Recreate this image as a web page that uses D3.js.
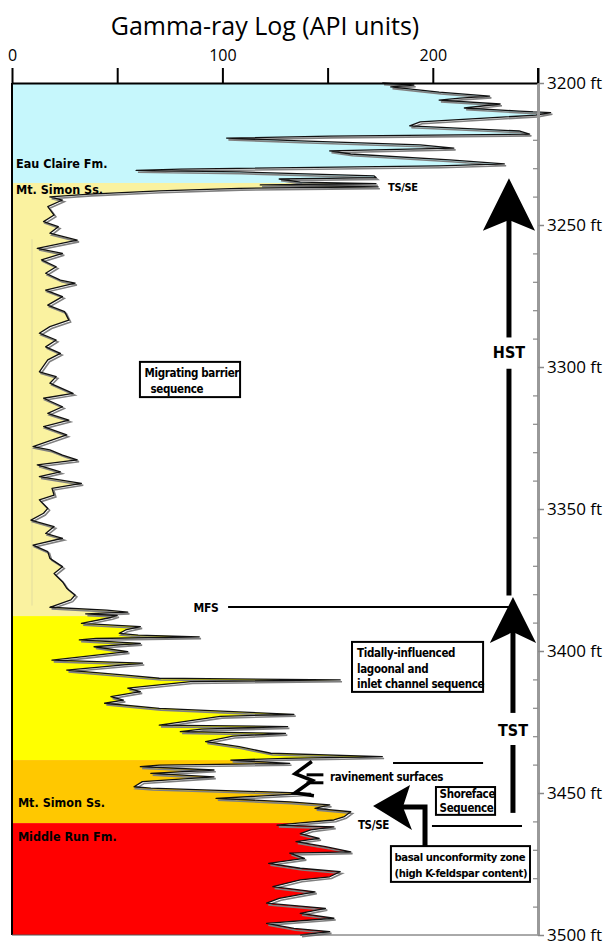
<!DOCTYPE html>
<html>
<head>
<meta charset="utf-8">
<script src="https://cdn.jsdelivr.net/npm/d3@7"></script>
<style>
  body { margin: 0; background: #fff; }
  svg { display: block; }
</style>
</head>
<body>
<svg id="canvas" width="608" height="945"></svg>
<script>
// gamma-ray log (depth in ft, GR in API units)
const depthFt = [
  3200.0, 3200.7, 3201.4, 3203.2, 3204.6, 3205.3, 3206.0, 3207.4, 3208.8, 3209.9,
  3210.4, 3211.3, 3213.7, 3215.1, 3216.9, 3218.0, 3218.7, 3219.4, 3220.4, 3221.8,
  3222.9, 3223.9, 3225.0, 3227.1, 3228.5, 3229.2, 3230.3, 3230.8, 3231.3, 3232.7,
  3233.3, 3233.8, 3234.9, 3235.4, 3235.9, 3236.6, 3237.1, 3238.0, 3239.1, 3240.1,
  3241.2, 3243.5, 3246.5, 3248.8, 3250.6, 3252.9, 3255.3, 3258.2, 3260.0, 3262.3,
  3264.7, 3267.0, 3269.4, 3270.5, 3272.9, 3275.2, 3278.2, 3280.5, 3283.5, 3285.8,
  3288.1, 3290.5, 3292.9, 3295.2, 3297.5, 3301.7, 3303.4, 3305.7, 3309.3, 3311.0,
  3314.0, 3316.3, 3318.7, 3321.0, 3323.9, 3328.0, 3329.2, 3331.0, 3332.7, 3334.5,
  3336.9, 3338.6, 3341.0, 3342.7, 3345.1, 3346.8, 3349.8, 3351.5, 3353.9, 3356.2,
  3358.6, 3360.3, 3362.7, 3365.0, 3367.4, 3370.3, 3372.7, 3375.6, 3377.9, 3380.3,
  3382.0, 3384.6, 3385.6, 3386.3, 3386.9, 3387.5, 3388.2, 3390.3, 3391.4, 3392.6,
  3393.8, 3394.4, 3395.0, 3395.6, 3396.1, 3397.3, 3398.5, 3400.2, 3403.2, 3404.3,
  3406.7, 3408.5, 3409.6, 3410.2, 3410.8, 3413.1, 3414.3, 3416.1, 3417.3, 3418.4,
  3420.2, 3422.3, 3423.0, 3426.1, 3426.6, 3427.5, 3428.4, 3429.0, 3430.0, 3431.9,
  3433.7, 3436.0, 3437.2, 3437.8, 3438.4, 3439.6, 3440.2, 3440.7, 3441.9, 3443.1,
  3444.3, 3446.0, 3447.8, 3448.3, 3450.1, 3451.9, 3453.1, 3454.2, 3455.4, 3456.6,
  3458.3, 3459.5, 3460.5, 3461.3, 3461.9, 3463.0, 3464.3, 3466.0, 3467.1, 3468.9,
  3470.7, 3471.2, 3473.0, 3474.8, 3476.5, 3477.7, 3479.5, 3480.6, 3483.0, 3484.8,
  3487.1, 3488.8, 3490.6, 3492.4, 3494.1, 3495.9, 3497.7, 3498.8, 3500.0
];
const gammaApi = [
  176, 191, 180, 203, 227, 213, 203, 232, 215, 241,
  256, 249, 194, 189, 241, 246, 151, 102, 137, 194,
  210, 151, 161, 208, 234, 203, 80, 59, 108, 172,
  173, 127, 137, 173, 118, 174, 108, 70, 37, 18,
  24, 17, 20, 15, 22, 18, 31, 12, 24, 14,
  21, 16, 23, 30, 16, 24, 17, 25, 27, 18,
  13, 21, 16, 23, 17, 13, 21, 18, 29, 15,
  24, 17, 27, 15, 26, 10, 18, 24, 31, 12,
  23, 13, 33, 19, 20, 13, 17, 15, 9, 20,
  16, 24, 10, 17, 18, 24, 20, 24, 26, 30,
  28, 18, 45, 55, 35, 50, 47, 33, 61, 54,
  51, 60, 89, 40, 32, 61, 39, 55, 19, 62,
  26, 54, 70, 156, 85, 55, 61, 47, 53, 44,
  70, 134, 99, 70, 131, 90, 80, 130, 105, 92,
  108, 123, 176, 130, 104, 132, 70, 61, 96, 66,
  96, 62, 58, 66, 142, 97, 132, 151, 144, 161,
  158, 153, 137, 126, 153, 142, 137, 146, 135, 149,
  161, 132, 139, 122, 137, 156, 151, 137, 124, 144,
  127, 121, 149, 137, 153, 121, 134, 151, 137
];

const formationNames = ["Eau Claire Fm.", "Mt. Simon Ss.", "Mt. Simon Ss. (lagoonal)", "Mt. Simon Ss. (shoreface)", "Middle Run Fm."];
const formationTops = [3200, 3235.2, 3387.7, 3438.4, 3460.6];
const formationBases = [3235.2, 3387.7, 3438.4, 3460.6, 3500];
const formationColors = ["#c6f7fc", "#faf2a0", "#ffff00", "#ffc800", "#ff0000"];

const grTicks = [0, 50, 100, 150, 200, 250];
const grTickLabels = ["0", "", "100", "", "200", ""];
const depthTicks = [3200, 3250, 3300, 3350, 3400, 3450, 3500];
const depthMinorTicks = d3.range(3210, 3500, 10).filter(d => d % 50 != 0);

const labelFont = "'Liberation Sans Narrow', 'DejaVu Sans Condensed', sans-serif";
const axisFont = "'Open Sans', sans-serif";

const svg = d3.select("#canvas");
const x = d3.scaleLinear().domain([0, 250]).range([12, 538]);
const y = d3.scaleLinear().domain([3200, 3500]).range([83, 935]);

const logData = depthFt.map((d, i) => ({depth: d, gr: gammaApi[i]}));

// title
svg.append("text")
  .attr("x", 265).attr("y", 35)
  .attr("text-anchor", "middle")
  .style("font-family", axisFont).style("font-size", "25px")
  .text("Gamma-ray Log (API units)");

// formation fills, clipped to the area left of the curve
const area = d3.area().y(d => y(d.depth)).x0(x(0)).x1(d => x(d.gr));
svg.append("clipPath").attr("id", "logclip")
  .append("path").attr("d", area(logData));

svg.append("g").attr("clip-path", "url(#logclip)")
  .selectAll("rect").data(formationNames).join("rect")
  .attr("x", x(0)).attr("width", x(260) - x(0))
  .attr("y", (d, i) => y(formationTops[i]))
  .attr("height", (d, i) => y(formationBases[i]) - y(formationTops[i]))
  .attr("fill", (d, i) => formationColors[i]);

// faint line inside upper Mt Simon
svg.append("line")
  .attr("x1", x(9.5)).attr("x2", x(9.5))
  .attr("y1", y(3255)).attr("y2", y(3384))
  .attr("stroke", "#e2dca0").attr("stroke-width", 1);

// the log trace: grey shadow then black line
const line = d3.line().x(d => x(d.gr)).y(d => y(d.depth));
svg.append("path").attr("d", line(logData))
  .attr("transform", "translate(1.8,1.8)")
  .attr("fill", "none").attr("stroke", "#808080").attr("stroke-width", 1.6);
svg.append("path").attr("d", line(logData))
  .attr("fill", "none").attr("stroke", "#111").attr("stroke-width", 1.3)
  .attr("stroke-linejoin", "round");

// frame
svg.append("line").attr("x1", x(0)).attr("x2", x(0)).attr("y1", y(3200)).attr("y2", y(3500))
  .attr("stroke", "#000").attr("stroke-width", 2);
svg.append("line").attr("x1", x(0)).attr("x2", x(250)).attr("y1", y(3500)).attr("y2", y(3500))
  .attr("stroke", "#555").attr("stroke-width", 1);

// top GR axis
const topAxis = svg.append("g").attr("transform", "translate(0," + y(3200) + ")")
  .call(d3.axisTop(x).tickValues(grTicks).tickSize(15).tickSizeOuter(0).tickPadding(7)
    .tickFormat((d, i) => grTickLabels[i]));
topAxis.select(".domain").attr("stroke", "#000").attr("stroke-width", 2);
topAxis.selectAll(".tick line").attr("stroke", "#000").attr("stroke-width", 2);
topAxis.selectAll("text").style("font-family", axisFont).style("font-size", "16px").attr("fill", "#000");

// right depth axis
const rightAxis = svg.append("g").attr("transform", "translate(" + x(250) + ",0)")
  .call(d3.axisRight(y).tickValues(depthTicks).tickSize(6).tickSizeOuter(0).tickPadding(3)
    .tickFormat(d => d + " ft"));
rightAxis.select(".domain").attr("stroke", "#999").attr("stroke-width", 3);
rightAxis.selectAll(".tick line").attr("stroke", "#888").attr("stroke-width", 1.5);
rightAxis.selectAll("text").style("font-family", axisFont).style("font-size", "17px").attr("fill", "#000");
const minorAxis = svg.append("g").attr("transform", "translate(" + x(250) + ",0)")
  .call(d3.axisLeft(y).tickValues(depthMinorTicks).tickSize(5).tickSizeOuter(0).tickFormat(""));
minorAxis.select(".domain").remove();
minorAxis.selectAll(".tick line").attr("stroke", "#888").attr("stroke-width", 1.2);
svg.append("line").attr("x1", x(250)).attr("x2", x(250)).attr("y1", 68).attr("y2", y(3200))
  .attr("stroke", "#000").attr("stroke-width", 2);

// annotation helpers
function label(txt, gx, gd, size, anchor, spacing) {
  return svg.append("text").attr("x", x(gx)).attr("y", y(gd))
    .attr("text-anchor", anchor || "start")
    .style("font-family", labelFont).style("font-weight", "bold")
    .style("font-size", (size || 11.5) + "px")
    .style("letter-spacing", (spacing === undefined ? -0.35 : spacing) + "px")
    .text(txt);
}
function box(g0, g1, d0, d1) {
  svg.append("rect").attr("x", x(g0)).attr("y", y(d0))
    .attr("width", x(g1) - x(g0)).attr("height", y(d1) - y(d0))
    .attr("fill", "#fff").attr("stroke", "#000").attr("stroke-width", 2);
}
function hline(g0, g1, d, w) {
  svg.append("line").attr("x1", x(g0)).attr("x2", x(g1)).attr("y1", y(d)).attr("y2", y(d))
    .attr("stroke", "#000").attr("stroke-width", w || 2);
}
function vline(g, d0, d1, w) {
  svg.append("line").attr("x1", x(g)).attr("x2", x(g)).attr("y1", y(d0)).attr("y2", y(d1))
    .attr("stroke", "#000").attr("stroke-width", w || 5);
}
function upArrowHead(g, tip, notch, base, half) {
  const pts = [[g, tip], [g + half, base], [g, notch], [g - half, base]];
  svg.append("path").attr("d", d3.line()(pts.map(p => [x(p[0]), y(p[1])])) + "Z").attr("fill", "#000");
}

// formation names
label("Eau Claire Fm.", 1.9, 3229.9, 12.5, "start", 0);
label("Mt. Simon Ss.", 1.9, 3239.1, 12.5, "start", 0);
label("Mt. Simon Ss.", 2.8, 3454.9, 12.5, "start", 0);
label("Middle Run Fm.", 2.8, 3467.0, 12.5, "start", 0);

// surfaces
label("TS/SE", 178.7, 3238, 11);
label("MFS", 92.2, 3386.3, 12, "middle");
hline(102.7, 236.7, 3384.5);
label("TS/SE", 164.4, 3462.7, 11.5);
hline(181.1, 223.9, 3439.4);
hline(199.6, 242.4, 3461.6);

// sequence boxes
box(60.8, 108.4, 3298.2, 3310.6);
label("Migrating barrier", 63, 3303.6);
label("sequence", 65.8, 3309.0);
box(161.6, 223.9, 3396.8, 3414.4);
label("Tidally-influenced", 164, 3402.2);
label("lagoonal and", 164, 3407.6);
label("inlet channel sequence", 164, 3413.0);
box(201.5, 229.6, 3447.9, 3457.7);
label("Shoreface", 203.2, 3451.9);
label("Sequence", 203.2, 3456.6);
box(180.1, 246.2, 3468.7, 3481.3);
label("basal unconformity zone", 181.8, 3474.0, 11.2, "start", -0.4);
label("(high K-feldspar content)", 181.8, 3479.6, 11.2, "start", -0.4);

// HST / TST arrows
upArrowHead(236.2, 3233.5, 3248.2, 3252.0, 12.4);
vline(236.2, 3248.0, 3289.6);
vline(236.2, 3300.6, 3380.5);
label("HST", 236.2, 3297.0, 16, "middle", 0);
upArrowHead(238.1, 3381.0, 3393.3, 3397.2, 11);
vline(238.1, 3393.0, 3421.8);
vline(238.1, 3433.1, 3457.0);
label("TST", 238.1, 3430.0, 16, "middle", 0);

// ravinement bracket
const zig = [[142.5, 3438.9], [134.5, 3443.2], [142.8, 3445.6], [134.5, 3450.0], [143.5, 3451.0]];
svg.append("path").attr("d", d3.line()(zig.map(p => [x(p[0]), y(p[1])])))
  .attr("fill", "none").attr("stroke", "#000").attr("stroke-width", 3.5).attr("stroke-linejoin", "miter");
hline(140, 148, 3443.6, 3);
hline(140, 148, 3446.4, 3);
label("ravinement surfaces", 151.1, 3445.9);

// elbow arrow pointing to the basal TS/SE
const head = [[171.6, 3454.6], [189.2, 3447.2], [185.8, 3454.9], [190.1, 3463.0]];
svg.append("path").attr("d", d3.line()(head.map(p => [x(p[0]), y(p[1])])) + "Z").attr("fill", "#000");
svg.append("path")
  .attr("d", d3.line()([[185.8, 3454.9], [196.3, 3454.9], [196.3, 3468.7]].map(p => [x(p[0]), y(p[1])])))
  .attr("fill", "none").attr("stroke", "#000").attr("stroke-width", 5);
</script>
</body>
</html>
